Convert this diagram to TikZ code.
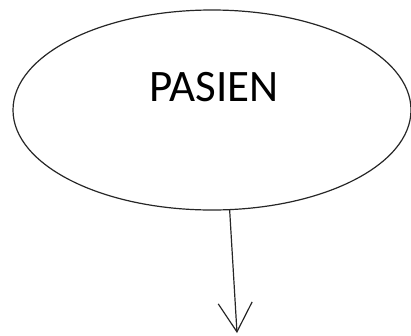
\documentclass[tikz,border=0pt]{standalone}
\usepackage{fontspec}
\setmainfont{Carlito}
\usetikzlibrary{shapes.geometric,arrows.meta}
\tikzset{
  oval/.style={draw=black!85, line width=1.2pt, ellipse, inner sep=0pt,
    minimum width=398pt, minimum height=200pt},
  ovaltext/.style={font=\fontsize{45}{50}\selectfont, inner sep=0pt, anchor=base},
  flow/.style={draw=black!85, line width=1.2pt, -{Straight Barb[length=29pt,width=34pt,line width=1.2pt]}}
}
\begin{document}
\begin{tikzpicture}[x=1pt,y=-1pt]
\useasboundingbox (0,0) rectangle (411,335);
\node[oval] (pasien) at (212,110) {};
\node[ovaltext] (pasientext) at (214,101) {PASIEN};
\coordinate (end) at (237,333);
\draw[flow] (pasien.-80) -- (end);
\end{tikzpicture}
\end{document}
